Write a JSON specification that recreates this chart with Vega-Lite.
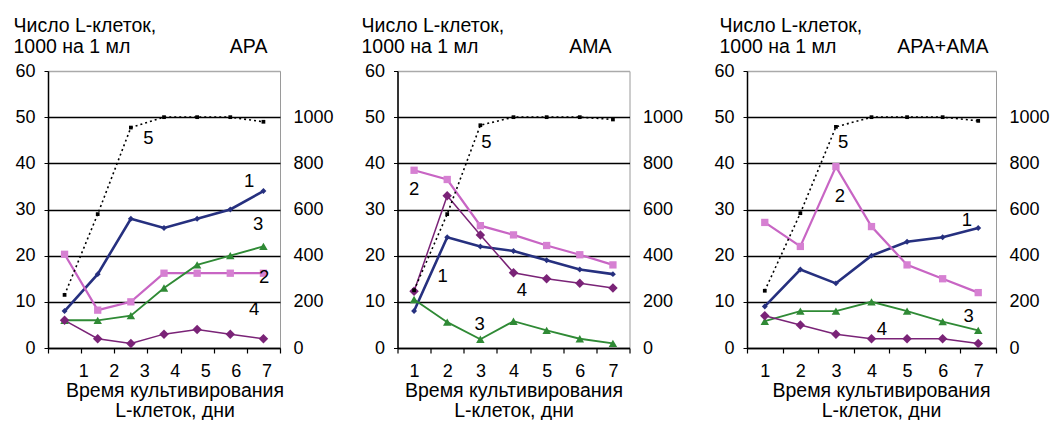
{
  "$schema": "https://vega.github.io/schema/vega-lite/v6.json",
  "background": "white",
  "padding": {"left": 12, "top": 15, "right": 5, "bottom": 0},
  "bounds": "flush",
  "spacing": 117.5,
  "datasets": {
    "series": [
      {"p": "p1", "s": "1", "d": 1, "v": 8}, {"p": "p1", "s": "1", "d": 2, "v": 16}, {"p": "p1", "s": "1", "d": 3, "v": 28}, {"p": "p1", "s": "1", "d": 4, "v": 26}, {"p": "p1", "s": "1", "d": 5, "v": 28}, {"p": "p1", "s": "1", "d": 6, "v": 30}, {"p": "p1", "s": "1", "d": 7, "v": 34},
      {"p": "p1", "s": "2", "d": 1, "v": 20.3}, {"p": "p1", "s": "2", "d": 2, "v": 8.2}, {"p": "p1", "s": "2", "d": 3, "v": 10}, {"p": "p1", "s": "2", "d": 4, "v": 16.2}, {"p": "p1", "s": "2", "d": 5, "v": 16.2}, {"p": "p1", "s": "2", "d": 6, "v": 16.2}, {"p": "p1", "s": "2", "d": 7, "v": 16.2},
      {"p": "p1", "s": "3", "d": 1, "v": 6}, {"p": "p1", "s": "3", "d": 2, "v": 6}, {"p": "p1", "s": "3", "d": 3, "v": 7}, {"p": "p1", "s": "3", "d": 4, "v": 13}, {"p": "p1", "s": "3", "d": 5, "v": 18}, {"p": "p1", "s": "3", "d": 6, "v": 20}, {"p": "p1", "s": "3", "d": 7, "v": 22},
      {"p": "p1", "s": "4", "d": 1, "v": 6}, {"p": "p1", "s": "4", "d": 2, "v": 2}, {"p": "p1", "s": "4", "d": 3, "v": 1}, {"p": "p1", "s": "4", "d": 4, "v": 3}, {"p": "p1", "s": "4", "d": 5, "v": 4}, {"p": "p1", "s": "4", "d": 6, "v": 3}, {"p": "p1", "s": "4", "d": 7, "v": 2},
      {"p": "p1", "s": "5", "d": 1, "v": 230}, {"p": "p1", "s": "5", "d": 2, "v": 580}, {"p": "p1", "s": "5", "d": 3, "v": 955}, {"p": "p1", "s": "5", "d": 4, "v": 1000}, {"p": "p1", "s": "5", "d": 5, "v": 1000}, {"p": "p1", "s": "5", "d": 6, "v": 1000}, {"p": "p1", "s": "5", "d": 7, "v": 980},
      {"p": "p2", "s": "1", "d": 1, "v": 8}, {"p": "p2", "s": "1", "d": 2, "v": 24}, {"p": "p2", "s": "1", "d": 3, "v": 22}, {"p": "p2", "s": "1", "d": 4, "v": 21}, {"p": "p2", "s": "1", "d": 5, "v": 19}, {"p": "p2", "s": "1", "d": 6, "v": 17}, {"p": "p2", "s": "1", "d": 7, "v": 16},
      {"p": "p2", "s": "2", "d": 1, "v": 38.5}, {"p": "p2", "s": "2", "d": 2, "v": 36.5}, {"p": "p2", "s": "2", "d": 3, "v": 26.5}, {"p": "p2", "s": "2", "d": 4, "v": 24.5}, {"p": "p2", "s": "2", "d": 5, "v": 22.2}, {"p": "p2", "s": "2", "d": 6, "v": 20.2}, {"p": "p2", "s": "2", "d": 7, "v": 18},
      {"p": "p2", "s": "3", "d": 1, "v": 10.5}, {"p": "p2", "s": "3", "d": 2, "v": 5.6}, {"p": "p2", "s": "3", "d": 3, "v": 1.9}, {"p": "p2", "s": "3", "d": 4, "v": 5.8}, {"p": "p2", "s": "3", "d": 5, "v": 3.8}, {"p": "p2", "s": "3", "d": 6, "v": 2}, {"p": "p2", "s": "3", "d": 7, "v": 1},
      {"p": "p2", "s": "4", "d": 1, "v": 12.3}, {"p": "p2", "s": "4", "d": 2, "v": 33}, {"p": "p2", "s": "4", "d": 3, "v": 24.5}, {"p": "p2", "s": "4", "d": 4, "v": 16.3}, {"p": "p2", "s": "4", "d": 5, "v": 15}, {"p": "p2", "s": "4", "d": 6, "v": 14}, {"p": "p2", "s": "4", "d": 7, "v": 13},
      {"p": "p2", "s": "5", "d": 1, "v": 250}, {"p": "p2", "s": "5", "d": 2, "v": 580}, {"p": "p2", "s": "5", "d": 3, "v": 965}, {"p": "p2", "s": "5", "d": 4, "v": 1000}, {"p": "p2", "s": "5", "d": 5, "v": 1000}, {"p": "p2", "s": "5", "d": 6, "v": 1000}, {"p": "p2", "s": "5", "d": 7, "v": 990},
      {"p": "p3", "s": "1", "d": 1, "v": 9}, {"p": "p3", "s": "1", "d": 2, "v": 17}, {"p": "p3", "s": "1", "d": 3, "v": 14}, {"p": "p3", "s": "1", "d": 4, "v": 20}, {"p": "p3", "s": "1", "d": 5, "v": 23}, {"p": "p3", "s": "1", "d": 6, "v": 24}, {"p": "p3", "s": "1", "d": 7, "v": 26},
      {"p": "p3", "s": "2", "d": 1, "v": 27.2}, {"p": "p3", "s": "2", "d": 2, "v": 22}, {"p": "p3", "s": "2", "d": 3, "v": 39.3}, {"p": "p3", "s": "2", "d": 4, "v": 26.3}, {"p": "p3", "s": "2", "d": 5, "v": 18}, {"p": "p3", "s": "2", "d": 6, "v": 15}, {"p": "p3", "s": "2", "d": 7, "v": 12},
      {"p": "p3", "s": "3", "d": 1, "v": 5.8}, {"p": "p3", "s": "3", "d": 2, "v": 8}, {"p": "p3", "s": "3", "d": 3, "v": 8}, {"p": "p3", "s": "3", "d": 4, "v": 10}, {"p": "p3", "s": "3", "d": 5, "v": 8}, {"p": "p3", "s": "3", "d": 6, "v": 5.7}, {"p": "p3", "s": "3", "d": 7, "v": 3.8},
      {"p": "p3", "s": "4", "d": 1, "v": 7}, {"p": "p3", "s": "4", "d": 2, "v": 5}, {"p": "p3", "s": "4", "d": 3, "v": 3}, {"p": "p3", "s": "4", "d": 4, "v": 2}, {"p": "p3", "s": "4", "d": 5, "v": 2}, {"p": "p3", "s": "4", "d": 6, "v": 2}, {"p": "p3", "s": "4", "d": 7, "v": 1},
      {"p": "p3", "s": "5", "d": 1, "v": 248}, {"p": "p3", "s": "5", "d": 2, "v": 584}, {"p": "p3", "s": "5", "d": 3, "v": 958}, {"p": "p3", "s": "5", "d": 4, "v": 1000}, {"p": "p3", "s": "5", "d": 5, "v": 1000}, {"p": "p3", "s": "5", "d": 6, "v": 1000}, {"p": "p3", "s": "5", "d": 7, "v": 984}
    ],
    "labels": [
      {"p": "p1", "t": "1", "d": 6.57, "v": 36.2}, {"p": "p1", "t": "3", "d": 6.84, "v": 26.9}, {"p": "p1", "t": "2", "d": 7.02, "v": 15.4}, {"p": "p1", "t": "4", "d": 6.72, "v": 8.4}, {"p": "p1", "t": "5", "d": 3.53, "v": 45.5},
      {"p": "p2", "t": "2", "d": 1.0, "v": 34.5}, {"p": "p2", "t": "1", "d": 1.86, "v": 15.7}, {"p": "p2", "t": "4", "d": 4.25, "v": 12.5}, {"p": "p2", "t": "3", "d": 2.98, "v": 5.3}, {"p": "p2", "t": "5", "d": 3.18, "v": 44.6},
      {"p": "p3", "t": "1", "d": 6.68, "v": 27.7}, {"p": "p3", "t": "2", "d": 3.11, "v": 33}, {"p": "p3", "t": "3", "d": 6.73, "v": 7}, {"p": "p3", "t": "4", "d": 4.29, "v": 4.2}, {"p": "p3", "t": "5", "d": 3.2, "v": 44.7}
    ]
  },
  "hconcat": [
    {
      "width": 232, "height": 277,
      "encoding": {
        "x": {"field": "d", "type": "quantitative", "scale": {"domain": [0.5, 7.5], "nice": false, "zero": false},
          "axis": {"values": [0.5, 1.5, 2.5, 3.5, 4.5, 5.5, 6.5, 7.5], "labelExpr": "datum.value < 1 ? '' : format(datum.value - 0.5, 'd')", "labelOffset": {"expr": "2 - (datum.value - 1.5) * 2.6"}, "grid": false, "domainColor": "black", "domainWidth": 1.5, "tickColor": "black", "tickSize": 5, "tickWidth": 1.2, "labelPadding": 9, "title": ["Время культивирования", "L-клеток, дни"], "titlePadding": 1, "titleLineHeight": 20, "titleX": 126.5}}
      },
      "layer": [
        {
          "data": {"name": "series"},
          "transform": [{"filter": "datum.p == 'p1' && datum.s != '5'"}],
          "mark": {"type": "line"},
          "encoding": {
            "y": {"field": "v", "type": "quantitative", "scale": {"domain": [0, 60], "nice": false},
              "axis": {"orient": "left", "values": [0, 10, 20, 30, 40, 50, 60], "grid": true, "gridColor": {"condition": {"test": "datum.value == 60", "value": "#aaaaaa"}, "value": "black"}, "gridWidth": 1.5, "domainColor": "black", "domainWidth": 1.5, "tickColor": "black", "tickSize": 4, "labelPadding": 9, "title": ["Число L-клеток,", "1000 на 1 мл"], "titleAngle": 0, "titleAlign": "left", "titleBaseline": "alphabetic", "titleX": -35, "titleY": -39.5, "titleLineHeight": 21}},
            "color": {"field": "s", "type": "nominal", "scale": {"domain": ["1", "2", "3", "4"], "range": ["#26307f", "#c865c4", "#2f8a35", "#7a2377"]}, "legend": null},
            "strokeWidth": {"field": "s", "type": "nominal", "scale": {"domain": ["1", "2", "3", "4"], "range": [2.6, 1.5, 1.2, 1.2]}, "legend": null}
          }
        },
        {
          "data": {"name": "series"},
          "transform": [{"filter": "datum.p == 'p1' && datum.s != '5'"}],
          "mark": {"type": "point", "filled": true, "opacity": 1},
          "encoding": {
            "y": {"field": "v", "type": "quantitative", "scale": {"domain": [0, 60], "nice": false}, "axis": null},
            "color": {"field": "s", "type": "nominal", "scale": {"domain": ["1", "2", "3", "4"], "range": ["#26307f", "#d680d2", "#2f8a35", "#7a2377"]}, "legend": null},
            "shape": {"field": "s", "type": "nominal", "scale": {"domain": ["1", "2", "3", "4"], "range": ["diamond", "square", "triangle-up", "diamond"]}, "legend": null},
            "size": {"field": "s", "type": "nominal", "scale": {"domain": ["1", "2", "3", "4"], "range": [35, 90, 45, 40]}, "legend": null}
          }
        },
        {
          "data": {"name": "series"},
          "transform": [{"filter": "datum.p == 'p1' && datum.s == '5'"}],
          "mark": {"type": "line", "color": "black", "strokeWidth": 1.6, "strokeDash": [2, 3]},
          "encoding": {
            "y": {"field": "v", "type": "quantitative", "scale": {"domain": [0, 1200], "nice": false},
              "axis": {"orient": "right", "values": [0, 200, 400, 600, 800, 1000], "format": "d", "grid": false, "ticks": false, "domain": false, "labelPadding": 13, "title": "АРА", "titleAngle": 0, "titleAlign": "right", "titleBaseline": "alphabetic", "titleX": -13, "titleY": -19}}
          }
        },
        {
          "data": {"name": "series"},
          "transform": [{"filter": "datum.p == 'p1' && datum.s == '5'"}],
          "mark": {"type": "square", "color": "black", "size": 14, "opacity": 1},
          "encoding": {
            "y": {"field": "v", "type": "quantitative", "scale": {"domain": [0, 1200], "nice": false}, "axis": null}
          }
        },
        {
          "data": {"name": "labels"},
          "transform": [{"filter": "datum.p == 'p1'"}],
          "mark": {"type": "text", "fontSize": 18.5, "color": "black", "align": "center", "baseline": "middle"},
          "encoding": {
            "y": {"field": "v", "type": "quantitative", "scale": {"domain": [0, 60], "nice": false}, "axis": null},
            "text": {"field": "t"}
          }
        }
      ],
      "resolve": {"scale": {"y": "independent", "color": "independent"}}
    },
    {
      "width": 232, "height": 277,
      "encoding": {
        "x": {"field": "d", "type": "quantitative", "scale": {"domain": [0.5, 7.5], "nice": false, "zero": false},
          "axis": {"values": [0.5, 1.5, 2.5, 3.5, 4.5, 5.5, 6.5, 7.5], "labelExpr": "datum.value > 7 ? '' : format(datum.value + 0.5, 'd')", "labelOffset": 16.6, "grid": false, "domainColor": "black", "domainWidth": 1.5, "tickColor": "black", "tickSize": 5, "tickWidth": 1.2, "labelPadding": 9, "title": ["Время культивирования", "L-клеток, дни"], "titlePadding": 1, "titleLineHeight": 20}}
      },
      "layer": [
        {
          "data": {"name": "series"},
          "transform": [{"filter": "datum.p == 'p2' && datum.s != '5'"}],
          "mark": {"type": "line"},
          "encoding": {
            "y": {"field": "v", "type": "quantitative", "scale": {"domain": [0, 60], "nice": false},
              "axis": {"orient": "left", "values": [0, 10, 20, 30, 40, 50, 60], "grid": true, "gridColor": {"condition": {"test": "datum.value == 60", "value": "#aaaaaa"}, "value": "black"}, "gridWidth": 1.5, "domainColor": "black", "domainWidth": 1.5, "tickColor": "black", "tickSize": 4, "labelPadding": 9, "title": ["Число L-клеток,", "1000 на 1 мл"], "titleAngle": 0, "titleAlign": "left", "titleBaseline": "alphabetic", "titleX": -36.5, "titleY": -39.5, "titleLineHeight": 21}},
            "color": {"field": "s", "type": "nominal", "scale": {"domain": ["1", "2", "3", "4"], "range": ["#26307f", "#c865c4", "#2f8a35", "#7a2377"]}, "legend": null},
            "strokeWidth": {"field": "s", "type": "nominal", "scale": {"domain": ["1", "2", "3", "4"], "range": [2.6, 1.5, 1.2, 1.2]}, "legend": null}
          }
        },
        {
          "data": {"name": "series"},
          "transform": [{"filter": "datum.p == 'p2' && datum.s != '5'"}],
          "mark": {"type": "point", "filled": true, "opacity": 1},
          "encoding": {
            "y": {"field": "v", "type": "quantitative", "scale": {"domain": [0, 60], "nice": false}, "axis": null},
            "color": {"field": "s", "type": "nominal", "scale": {"domain": ["1", "2", "3", "4"], "range": ["#26307f", "#d680d2", "#2f8a35", "#7a2377"]}, "legend": null},
            "shape": {"field": "s", "type": "nominal", "scale": {"domain": ["1", "2", "3", "4"], "range": ["diamond", "square", "triangle-up", "diamond"]}, "legend": null},
            "size": {"field": "s", "type": "nominal", "scale": {"domain": ["1", "2", "3", "4"], "range": [35, 90, 45, 40]}, "legend": null}
          }
        },
        {
          "data": {"name": "series"},
          "transform": [{"filter": "datum.p == 'p2' && datum.s == '5'"}],
          "mark": {"type": "line", "color": "black", "strokeWidth": 1.6, "strokeDash": [2, 3]},
          "encoding": {
            "y": {"field": "v", "type": "quantitative", "scale": {"domain": [0, 1200], "nice": false},
              "axis": {"orient": "right", "values": [0, 200, 400, 600, 800, 1000], "format": "d", "grid": false, "ticks": false, "domain": false, "labelPadding": 13, "title": "АМА", "titleAngle": 0, "titleAlign": "right", "titleBaseline": "alphabetic", "titleX": -18.5, "titleY": -19}}
          }
        },
        {
          "data": {"name": "series"},
          "transform": [{"filter": "datum.p == 'p2' && datum.s == '5'"}],
          "mark": {"type": "square", "color": "black", "size": 14, "opacity": 1},
          "encoding": {
            "y": {"field": "v", "type": "quantitative", "scale": {"domain": [0, 1200], "nice": false}, "axis": null}
          }
        },
        {
          "data": {"name": "labels"},
          "transform": [{"filter": "datum.p == 'p2'"}],
          "mark": {"type": "text", "fontSize": 18.5, "color": "black", "align": "center", "baseline": "middle"},
          "encoding": {
            "y": {"field": "v", "type": "quantitative", "scale": {"domain": [0, 60], "nice": false}, "axis": null},
            "text": {"field": "t"}
          }
        }
      ],
      "resolve": {"scale": {"y": "independent", "color": "independent"}}
    },
    {
      "width": 249, "height": 277,
      "encoding": {
        "x": {"field": "d", "type": "quantitative", "scale": {"domain": [0.5, 7.5], "nice": false, "zero": false},
          "axis": {"values": [0.5, 1.5, 2.5, 3.5, 4.5, 5.5, 6.5, 7.5], "labelExpr": "datum.value > 7 ? '' : format(datum.value + 0.5, 'd')", "labelOffset": 17.8, "grid": false, "domainColor": "black", "domainWidth": 1.5, "tickColor": "black", "tickSize": 5, "tickWidth": 1.2, "labelPadding": 9, "title": ["Время культивирования", "L-клеток, дни"], "titlePadding": 1, "titleLineHeight": 20, "titleX": 134}}
      },
      "layer": [
        {
          "data": {"name": "series"},
          "transform": [{"filter": "datum.p == 'p3' && datum.s != '5'"}],
          "mark": {"type": "line"},
          "encoding": {
            "y": {"field": "v", "type": "quantitative", "scale": {"domain": [0, 60], "nice": false},
              "axis": {"orient": "left", "values": [0, 10, 20, 30, 40, 50, 60], "grid": true, "gridColor": {"condition": {"test": "datum.value == 60", "value": "#aaaaaa"}, "value": "black"}, "gridWidth": 1.5, "domainColor": "black", "domainWidth": 1.5, "tickColor": "black", "tickSize": 4, "labelPadding": 9, "title": ["Число L-клеток,", "1000 на 1 мл"], "titleAngle": 0, "titleAlign": "left", "titleBaseline": "alphabetic", "titleX": -28, "titleY": -39.5, "titleLineHeight": 21}},
            "color": {"field": "s", "type": "nominal", "scale": {"domain": ["1", "2", "3", "4"], "range": ["#26307f", "#c865c4", "#2f8a35", "#7a2377"]}, "legend": null},
            "strokeWidth": {"field": "s", "type": "nominal", "scale": {"domain": ["1", "2", "3", "4"], "range": [2.6, 1.5, 1.2, 1.2]}, "legend": null}
          }
        },
        {
          "data": {"name": "series"},
          "transform": [{"filter": "datum.p == 'p3' && datum.s != '5'"}],
          "mark": {"type": "point", "filled": true, "opacity": 1},
          "encoding": {
            "y": {"field": "v", "type": "quantitative", "scale": {"domain": [0, 60], "nice": false}, "axis": null},
            "color": {"field": "s", "type": "nominal", "scale": {"domain": ["1", "2", "3", "4"], "range": ["#26307f", "#d680d2", "#2f8a35", "#7a2377"]}, "legend": null},
            "shape": {"field": "s", "type": "nominal", "scale": {"domain": ["1", "2", "3", "4"], "range": ["diamond", "square", "triangle-up", "diamond"]}, "legend": null},
            "size": {"field": "s", "type": "nominal", "scale": {"domain": ["1", "2", "3", "4"], "range": [35, 90, 45, 40]}, "legend": null}
          }
        },
        {
          "data": {"name": "series"},
          "transform": [{"filter": "datum.p == 'p3' && datum.s == '5'"}],
          "mark": {"type": "line", "color": "black", "strokeWidth": 1.6, "strokeDash": [2, 3]},
          "encoding": {
            "y": {"field": "v", "type": "quantitative", "scale": {"domain": [0, 1200], "nice": false},
              "axis": {"orient": "right", "values": [0, 200, 400, 600, 800, 1000], "format": "d", "grid": false, "ticks": false, "domain": false, "labelPadding": 13, "title": "АРА+АМА", "titleAngle": 0, "titleAlign": "right", "titleBaseline": "alphabetic", "titleX": -8, "titleY": -19}}
          }
        },
        {
          "data": {"name": "series"},
          "transform": [{"filter": "datum.p == 'p3' && datum.s == '5'"}],
          "mark": {"type": "square", "color": "black", "size": 14, "opacity": 1},
          "encoding": {
            "y": {"field": "v", "type": "quantitative", "scale": {"domain": [0, 1200], "nice": false}, "axis": null}
          }
        },
        {
          "data": {"name": "labels"},
          "transform": [{"filter": "datum.p == 'p3'"}],
          "mark": {"type": "text", "fontSize": 18.5, "color": "black", "align": "center", "baseline": "middle"},
          "encoding": {
            "y": {"field": "v", "type": "quantitative", "scale": {"domain": [0, 60], "nice": false}, "axis": null},
            "text": {"field": "t"}
          }
        }
      ],
      "resolve": {"scale": {"y": "independent", "color": "independent"}}
    }
  ],
  "config": {
    "font": "Liberation Sans",
    "view": {"stroke": "#9a9a9a", "strokeWidth": 1},
    "text": {"font": "Liberation Sans"},
    "axis": {
      "labelFont": "Liberation Sans", "labelFontSize": 18, "labelColor": "black",
      "titleFont": "Liberation Sans", "titleFontSize": 19.5, "titleFontWeight": "normal", "titleColor": "black",
      "labelFlush": false, "labelOverlap": false, "labelBound": false
    }
  }
}
